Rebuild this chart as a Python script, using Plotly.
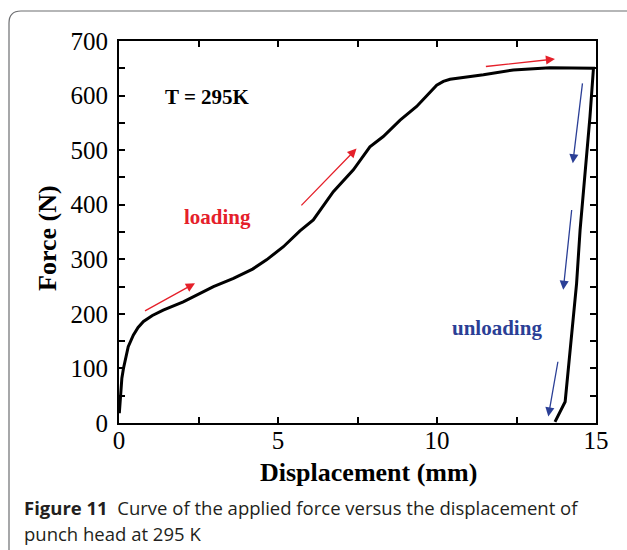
import plotly.graph_objects as go

# ---- data ----
load_x = [0.01, 0.05, 0.09, 0.14, 0.21, 0.29, 0.45, 0.60, 0.77, 1.05, 1.39, 2.02, 2.97, 3.60,
          4.20, 4.64, 5.17, 5.69, 6.11, 6.74, 7.37, 7.89, 8.31, 8.84, 9.36, 9.99, 10.20,
          10.41, 11.46, 12.40, 13.55, 14.92]
load_y = [18, 60, 82, 100, 122, 140, 161, 175, 186, 197, 207, 222, 250, 265,
          282, 299, 323, 352, 372, 424, 464, 506, 525, 555, 580, 619, 626,
          630, 638, 647, 651, 650]
unload_x = [14.92, 14.81, 14.50, 14.39, 14.08, 14.03, 13.71]
unload_y = [650, 561, 354, 256, 60, 39, 2]

# arrows: (x_start, y_start, x_end, y_end)
red_arrows = [(0.77, 204, 2.39, 256), (5.69, 396, 7.47, 503), (11.49, 653, 13.71, 667)]
blue_arrows = [(14.58, 625, 14.27, 476), (14.24, 393, 13.97, 244), (13.81, 115, 13.50, 12)]

x_ticks = [0, 5, 10, 15]
y_ticks = [0, 100, 200, 300, 400, 500, 600, 700]

caption_lines = ["<b>Figure 11</b>  Curve of the applied force versus the displacement of",
                 "punch head at 295 K"]

W, H = 627, 550
L, R, T, B = 119, 596, 41, 423


def px(xp):
    return (xp - L) / (R - L)


def py(yp):
    return (B - yp) / (B - T)


SERIF = "Liberation Serif, Times New Roman, serif"
RED = "#e5202a"
BLUE = "#2b3f96"

fig = go.Figure()
fig.add_trace(go.Scatter(x=load_x + unload_x[1:], y=load_y + unload_y[1:], mode="lines",
                         line=dict(color="black", width=3), showlegend=False,
                         hoverinfo="skip"))

annotations = []
for (x0, y0, x1, y1) in red_arrows:
    annotations.append(dict(x=x1, y=y1, ax=x0, ay=y0, xref="x", yref="y", axref="x", ayref="y",
                            showarrow=True, arrowhead=2, arrowsize=1.4, arrowwidth=1.3,
                            arrowcolor=RED, text=""))
for (x0, y0, x1, y1) in blue_arrows:
    annotations.append(dict(x=x1, y=y1, ax=x0, ay=y0, xref="x", yref="y", axref="x", ayref="y",
                            showarrow=True, arrowhead=2, arrowsize=1.4, arrowwidth=1.3,
                            arrowcolor=BLUE, text=""))

annotations += [
    dict(x=2.77, y=597, xref="x", yref="y", text="<b>T = 295K</b>", showarrow=False,
         xanchor="center", yanchor="middle",
         font=dict(family=SERIF, size=21, color="black")),
    dict(x=3.11, y=377, xref="x", yref="y", text="<b>loading</b>", showarrow=False,
         xanchor="center", yanchor="middle",
         font=dict(family=SERIF, size=21, color=RED)),
    dict(x=11.88, y=174, xref="x", yref="y", text="<b>unloading</b>", showarrow=False,
         xanchor="center", yanchor="middle",
         font=dict(family=SERIF, size=21, color=BLUE)),
    dict(x=px(47), y=py(238), xref="paper", yref="paper", text="<b>Force (N)</b>",
         showarrow=False, textangle=-90, xanchor="center", yanchor="middle",
         font=dict(family=SERIF, size=26, color="black")),
    dict(x=px(368), y=py(472), xref="paper", yref="paper", text="<b>Displacement (mm)</b>",
         showarrow=False, xanchor="center", yanchor="middle",
         font=dict(family=SERIF, size=26, color="black")),
]
for i, line in enumerate(caption_lines):
    annotations.append(dict(x=px(22), y=py(507 + 26 * i), xref="paper", yref="paper",
                            xanchor="left", yanchor="middle", align="left", showarrow=False,
                            text=line,
                            font=dict(family="Open Sans, Noto Sans, sans-serif", size=18.5,
                                      color="#231f20")))

frame_path = (f"M {px(9)},{py(560)} L {px(9)},{py(23)} "
              f"Q {px(9)},{py(11)} {px(21)},{py(11)} L {px(640)},{py(11)}")

fig.update_layout(
    width=W, height=H,
    margin=dict(l=L, r=W - R, t=T, b=H - B),
    paper_bgcolor="white", plot_bgcolor="white",
    annotations=annotations,
    shapes=[dict(type="path", path=frame_path, xref="paper", yref="paper",
                 line=dict(color="#6d6e71", width=1.2))],
)
axis_common = dict(showgrid=False, zeroline=False, showline=True, linecolor="black",
                   linewidth=2, mirror="ticks", ticks="inside", ticklen=6, tickwidth=1.5,
                   tickcolor="black", tickfont=dict(family=SERIF, size=25, color="black"))
fig.update_xaxes(range=[0, 15], tickvals=x_ticks, ticktext=[str(v) for v in x_ticks],
                 minor=dict(dtick=2.5, tick0=0, ticks="inside", ticklen=6, tickwidth=1.5,
                            tickcolor="black"),
                 ticklabelstandoff=-6, **axis_common)
fig.update_yaxes(range=[0, 700], tickvals=y_ticks, ticktext=[str(v) for v in y_ticks],
                 minor=dict(dtick=50, tick0=0, ticks="inside", ticklen=6, tickwidth=1.5,
                            tickcolor="black"),
                 ticklabelstandoff=4, **axis_common)

fig.write_html("out.html")
